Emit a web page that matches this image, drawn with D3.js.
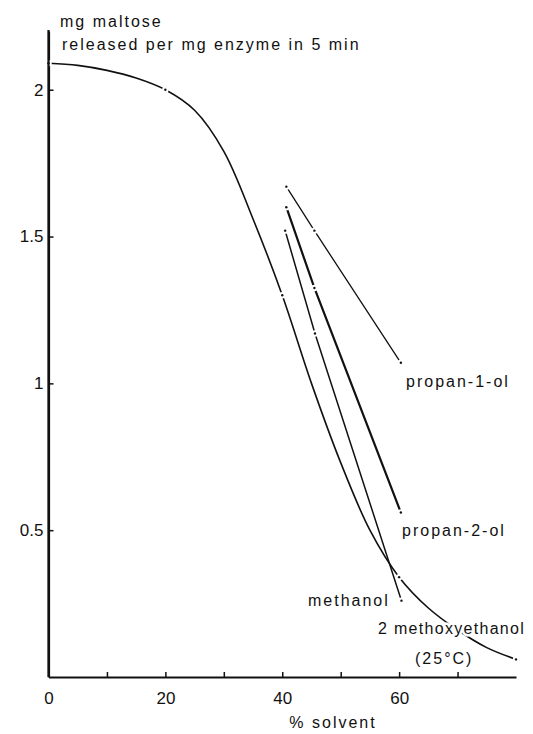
<!DOCTYPE html>
<html>
<head>
<meta charset="utf-8">
<script src="https://cdnjs.cloudflare.com/ajax/libs/d3/7.8.5/d3.min.js"></script>
<style>
  body { margin: 0; background: #fff; }
  text { font-family: "Liberation Sans", Arial, sans-serif; fill: #111; }
</style>
</head>
<body>
<script>
// % solvent grid and mg maltose for 2 methoxyethanol
var solventPct = [0, 5, 10, 15, 20, 25, 30, 35, 40, 45, 50, 55, 60, 65, 70, 75, 80];
var methoxyethanol = [2.09, 2.083, 2.066, 2.04, 2.0, 1.93, 1.79, 1.56, 1.30, 1.00, 0.73, 0.50, 0.34, 0.235, 0.16, 0.10, 0.06];
var methoxyMarks = [0, 20, 40, 60, 80];

// straight solvent lines: measured points
var propan1olX = [40.7, 45.5, 60.3];
var propan1olY = [1.67, 1.52, 1.07];
var propan2olX = [40.7, 45.5, 60.3];
var propan2olY = [1.60, 1.325, 0.56];
var methanolX = [40.5, 45.6, 60.4];
var methanolY = [1.52, 1.17, 0.26];

var xTicks = [0, 10, 20, 30, 40, 50, 60, 70];
var xLabels = [0, 20, 40, 60];
var yTicks = [0.5, 1, 1.5, 2];

var width = 533, height = 734;

var svg = d3.select("body").append("svg")
    .attr("width", width)
    .attr("height", height);

var x = d3.scaleLinear().domain([0, 80]).range([48.5, 516]);
var y = d3.scaleLinear().domain([0, 2.2]).range([677, 31]);

// axes
var yAxis = d3.axisLeft(y).tickValues(yTicks).tickSizeInner(-5).tickSizeOuter(0).tickPadding(5)
    .tickFormat(function(d) { return String(d); });
var xAxis = d3.axisBottom(x).tickValues(xTicks).tickSizeInner(-5).tickSizeOuter(0).tickPadding(21)
    .tickFormat(function(d) { return xLabels.indexOf(d) >= 0 ? d : ""; });

var gy = svg.append("g").attr("transform", "translate(" + x(0) + ",0)").call(yAxis);
var gx = svg.append("g").attr("transform", "translate(0," + y(0) + ")").call(xAxis);

[gx, gy].forEach(function(g) {
  g.select(".domain").attr("stroke", "#111").attr("stroke-width", 2.2);
  g.selectAll(".tick line").attr("stroke", "#111").attr("stroke-width", 1.5);
  g.selectAll(".tick text").style("font-size", "17px").attr("fill", "#111")
    .style("font-family", "'Liberation Sans', Arial, sans-serif");
});
gx.selectAll(".tick text").attr("dy", "0.35em");

// lines
var line = d3.line().x(function(d) { return x(d[0]); }).y(function(d) { return y(d[1]); });

var mainPts = solventPct.map(function(s, i) { return [s, methoxyethanol[i]]; });
svg.append("path")
    .attr("d", line.curve(d3.curveCatmullRom.alpha(0.5))(mainPts))
    .attr("fill", "none").attr("stroke", "#111").attr("stroke-width", 1.6);

var straight = [
  { xs: propan1olX, ys: propan1olY, w: 1.3 },
  { xs: propan2olX, ys: propan2olY, w: 2.2 },
  { xs: methanolX, ys: methanolY, w: 1.5 }
];
var lin = d3.line().x(function(d) { return x(d[0]); }).y(function(d) { return y(d[1]); });
straight.forEach(function(s) {
  var pts = s.xs.map(function(v, i) { return [v, s.ys[i]]; });
  svg.append("path")
    .attr("d", lin(pts))
    .attr("fill", "none").attr("stroke", "#111").attr("stroke-width", s.w);
});

// data points: small gap with a dot
var marks = [];
methoxyMarks.forEach(function(m) {
  var i = solventPct.indexOf(m);
  marks.push([m, methoxyethanol[i]]);
});
straight.forEach(function(s) {
  s.xs.forEach(function(v, i) { marks.push([v, s.ys[i]]); });
});

svg.selectAll("circle.gap").data(marks).enter().append("circle")
    .attr("class", "gap")
    .attr("cx", function(d) { return x(d[0]); })
    .attr("cy", function(d) { return y(d[1]); })
    .attr("r", 3.2).attr("fill", "#fff");
svg.selectAll("circle.dot").data(marks).enter().append("circle")
    .attr("class", "dot")
    .attr("cx", function(d) { return x(d[0]); })
    .attr("cy", function(d) { return y(d[1]); })
    .attr("r", 1.2).attr("fill", "#111");

// redraw the y axis line over the first mark
svg.append("line").attr("x1", x(0)).attr("x2", x(0)).attr("y1", 30).attr("y2", y(0))
    .attr("stroke", "#111").attr("stroke-width", 2.2);

// titles and labels (white halo so the curve breaks under them)
function label(txt, lx, ly, anchor, ls) {
  svg.append("text")
    .attr("x", lx).attr("y", ly)
    .attr("text-anchor", anchor || "start")
    .style("font-size", "16px")
    .style("letter-spacing", (ls || 2) + "px")
    .style("paint-order", "stroke")
    .attr("stroke", "#fff").attr("stroke-width", 5).attr("stroke-linejoin", "round")
    .text(txt);
}
label("mg maltose", 60, 27);
label("released per mg enzyme in 5 min", 62, 50);
label("% solvent", 333, 728, "middle");
label("propan-1-ol", 406, 387);
label("propan-2-ol", 402, 536);
label("methanol", 308, 606);
label("2 methoxyethanol", 378, 634, "start", 1.3);
label("(25°C)", 415, 664);
</script>
</body>
</html>
